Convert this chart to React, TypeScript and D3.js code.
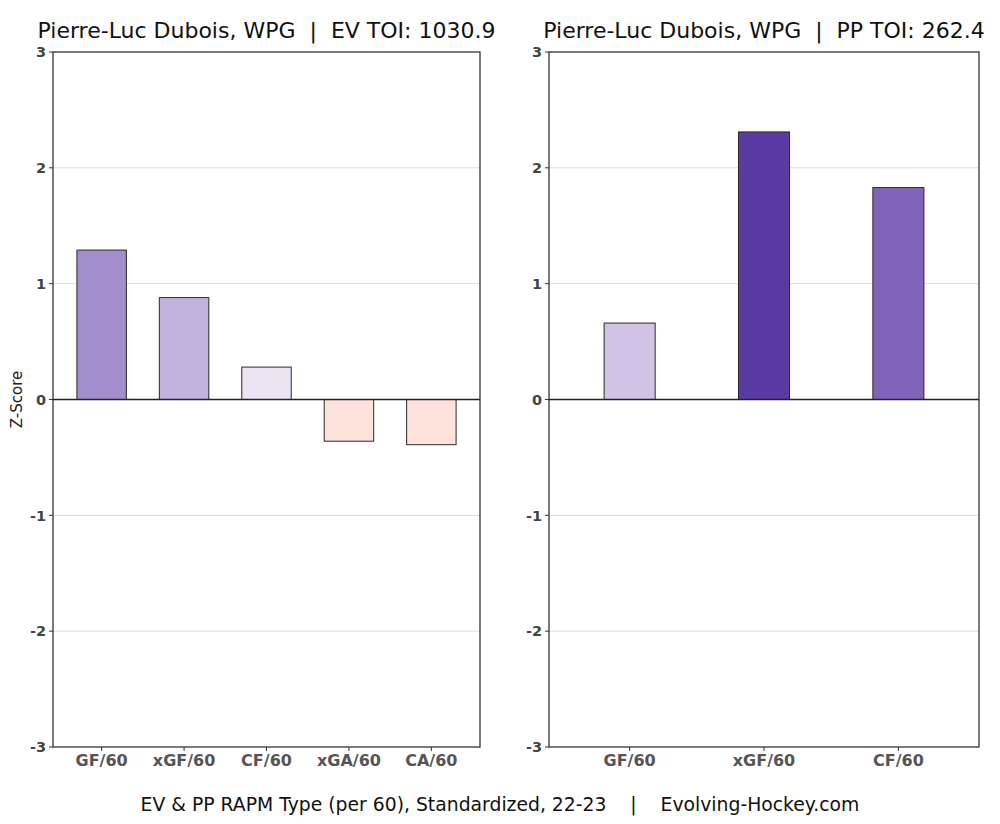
import React from "react";
import * as d3 from "d3";

const evCategories = ["GF/60", "xGF/60", "CF/60", "xGA/60", "CA/60"];
const evValues = [1.29, 0.88, 0.28, -0.36, -0.39];
const evColors = ["#a48dcc", "#c1b2de", "#eae4f3", "#fde1db", "#fde1db"];

const ppCategories = ["GF/60", "xGF/60", "CF/60"];
const ppValues = [0.66, 2.31, 1.83];
const ppColors = ["#d0c3e6", "#5a3ba4", "#7f64b8"];

const yTicks = [-3, -2, -1, 0, 1, 2, 3];

const evTitle = "Pierre-Luc Dubois, WPG  |  EV TOI: 1030.9";
const ppTitle = "Pierre-Luc Dubois, WPG  |  PP TOI: 262.4";
const footer = "EV & PP RAPM Type (per 60), Standardized, 22-23    |    Evolving-Hockey.com";

const FONT = "DejaVu Sans, sans-serif";

type PanelProps = {
  left: number;
  right: number;
  cats: string[];
  vals: number[];
  colors: string[];
  title: string;
  barWidth: number;
  domainPad: number;
  showYLabel?: boolean;
};

const TOP = 52;
const BOTTOM = 747;

function Panel({ left, right, cats, vals, colors, title, barWidth, domainPad, showYLabel }: PanelProps) {
  const y = d3.scaleLinear().domain([-3, 3]).range([BOTTOM, TOP]);
  const x = d3
    .scaleLinear()
    .domain([-domainPad, cats.length - 1 + domainPad])
    .range([left, right]);
  const unit = x(1) - x(0);
  const bw = unit * barWidth;
  return (
    <g>
      <text
        x={(left + right) / 2}
        y={38}
        textAnchor="middle"
        fontFamily={FONT}
        fontSize={22}
        fill="#111"
        xmlSpace="preserve"
        style={{ whiteSpace: "pre" }}
      >
        {title}
      </text>
      {yTicks
        .filter((t) => t !== 0 && t !== 3 && t !== -3)
        .map((t) => (
          <line key={"g" + t} x1={left} x2={right} y1={y(t)} y2={y(t)} stroke="#dcdcdc" strokeWidth={1} />
        ))}
      {vals.map((v, i) => (
        <rect
          key={i}
          x={x(i) - bw / 2}
          y={y(Math.max(0, v))}
          width={bw}
          height={Math.abs(y(v) - y(0))}
          fill={colors[i]}
          stroke="#2a2a2a"
          strokeWidth={1}
        />
      ))}
      <line x1={left} x2={right} y1={y(0)} y2={y(0)} stroke="#222" strokeWidth={1.3} />
      <rect x={left} y={TOP} width={right - left} height={BOTTOM - TOP} fill="none" stroke="#333" strokeWidth={1.3} />
      {yTicks.map((t) => (
        <g key={"t" + t}>
          <line x1={left - 4} x2={left} y1={y(t)} y2={y(t)} stroke="#333" strokeWidth={1} />
          <text
            x={left - 7}
            y={y(t)}
            dy="0.36em"
            textAnchor="end"
            fontFamily={FONT}
            fontWeight="bold"
            fontSize={14.5}
            fill="#444"
          >
            {t}
          </text>
        </g>
      ))}
      {cats.map((c, i) => (
        <g key={"x" + i}>
          <line x1={x(i)} x2={x(i)} y1={BOTTOM} y2={BOTTOM + 4} stroke="#333" strokeWidth={1} />
          <text
            x={x(i)}
            y={766}
            textAnchor="middle"
            fontFamily={FONT}
            fontWeight="bold"
            fontSize={16}
            fill="#555"
          >
            {c}
          </text>
        </g>
      ))}
      {showYLabel && (
        <text
          transform={`translate(22,${y(0)}) rotate(-90)`}
          textAnchor="middle"
          fontFamily={FONT}
          fontSize={15}
          fill="#222"
        >
          Z-Score
        </text>
      )}
    </g>
  );
}

export default function App() {
  return (
    <svg
      width={1000}
      height={824}
      style={{ position: "absolute", left: 0, top: 0, background: "#fff" }}
    >
      <rect x={0} y={0} width={1000} height={824} fill="#fff" />
      <Panel
        left={53}
        right={480}
        cats={evCategories}
        vals={evValues}
        colors={evColors}
        title={evTitle}
        barWidth={0.6}
        domainPad={0.59}
        showYLabel
      />
      <Panel
        left={549}
        right={979}
        cats={ppCategories}
        vals={ppValues}
        colors={ppColors}
        title={ppTitle}
        barWidth={0.38}
        domainPad={0.6}
      />
      <text
        x={500}
        y={811}
        textAnchor="middle"
        fontFamily={FONT}
        fontSize={18.8}
        fill="#111"
        style={{ whiteSpace: "pre" }}
        xmlSpace="preserve"
      >
        {footer}
      </text>
    </svg>
  );
}
